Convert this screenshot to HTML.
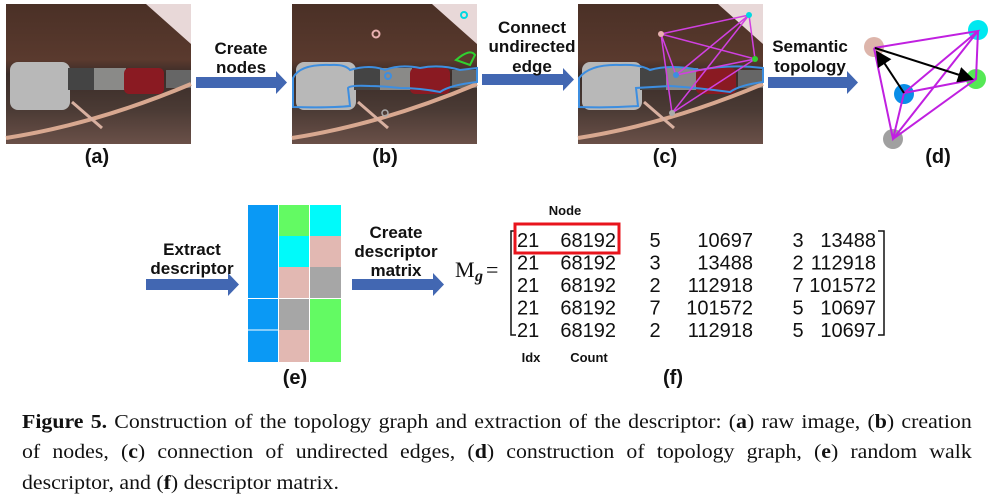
<!DOCTYPE html>
<html><head><meta charset="utf-8">
<style>
body{margin:0;background:#fff;}
#root{position:relative;width:995px;height:500px;overflow:hidden;font-family:"Liberation Sans",sans-serif;}
.cap{position:absolute;left:22px;font-family:"Liberation Serif",serif;font-size:19.5px;color:#111;white-space:nowrap;transform:scaleX(1.12);transform-origin:0 0;}
.j{width:848px;text-align:justify;text-align-last:justify;white-space:normal;}
</style></head>
<body>
<div id="root">
<svg width="995" height="500" style="position:absolute;left:0;top:0">
<defs>
<linearGradient id="ph" x1="0" y1="0" x2="0" y2="1">
<stop offset="0" stop-color="#4a3026"/><stop offset="0.4" stop-color="#5a3a2e"/><stop offset="0.5" stop-color="#3a2c28"/><stop offset="0.75" stop-color="#4a3a34"/><stop offset="1" stop-color="#6a5048"/>
</linearGradient>
<g id="photo">
<rect x="0" y="0" width="185" height="140" fill="url(#ph)"/>
<polygon points="140,0 185,0 185,40" fill="#e8d8d8"/>
<rect x="4" y="58" width="60" height="48" rx="8" fill="#b8b8b8"/>
<rect x="62" y="64" width="30" height="22" fill="#444"/>
<rect x="88" y="64" width="32" height="22" fill="#8a8a88"/>
<rect x="118" y="64" width="40" height="26" rx="5" fill="#8a1a22"/>
<rect x="160" y="66" width="25" height="18" fill="#666"/>
<path d="M0,134 Q90,120 185,80" stroke="#d8a890" stroke-width="4" fill="none"/>
<path d="M66,98 L96,124" stroke="#d8b0a0" stroke-width="3"/>
</g>
<marker id="ah" markerWidth="8" markerHeight="8" refX="7" refY="4" orient="auto"><path d="M0,0 L8,4 L0,8z" fill="#000"/></marker>
</defs>
<use href="#photo" x="6" y="4"/>
<g>
<use href="#photo" x="292" y="4"/>
<path d="M293,78 Q300,64 330,65 Q345,64 350,70 Q370,64 385,70 Q400,64 420,68 Q440,64 460,70 L477,68 L477,82 Q450,85 440,92 Q420,88 400,88 Q380,86 370,86 Q350,85 348,88 L350,106 Q330,108 293,107z" fill="none" stroke="#3d8ee0" stroke-width="2"/>
<circle cx="464" cy="15" r="3" fill="none" stroke="#00d8e0" stroke-width="2"/>
<circle cx="376" cy="34" r="3.5" fill="none" stroke="#e8b0b0" stroke-width="2"/>
<circle cx="388" cy="76" r="3" fill="none" stroke="#3d8ee0" stroke-width="2"/>
<circle cx="385" cy="113" r="3" fill="none" stroke="#aaa" stroke-width="1.5"/>
<path d="M456,60 Q470,48 475,55 L470,65 z" fill="none" stroke="#30d030" stroke-width="2"/>
</g>
<g>
<use href="#photo" x="578" y="4"/>
<path d="M579,78 Q590,64 620,65 Q640,64 650,70 Q670,64 700,70 Q730,64 763,68 L763,82 Q740,85 730,92 Q700,88 670,86 L636,88 L638,106 Q610,108 579,107z" fill="none" stroke="#3d8ee0" stroke-width="2"/>
<g stroke="#d040e0" stroke-width="1.5" fill="none">
<path d="M661,34 L749,15 L755,59 L661,34 L672,113 L749,15 L676,75 L755,59 L672,113 M676,75 L661,34"/>
</g>
<circle cx="749" cy="15" r="3" fill="#00d8e0"/><circle cx="661" cy="34" r="3" fill="#e8b0b0"/><circle cx="755" cy="59" r="3" fill="#30d030"/><circle cx="676" cy="75" r="3" fill="#3d8ee0"/><circle cx="672" cy="113" r="3" fill="#aaa"/>
</g>
<g fill="#4267b2">
<path d="M196,77 H276 V71 L287,82.5 L276,94 V88 H196z"/>
<path d="M482,74 H563 V68 L574,79.5 L563,91 V85 H482z"/>
<path d="M768,77 H847 V71 L858,82.5 L847,94 V88 H768z"/>
<path d="M146,279 H228 V273 L239,284.5 L228,296 V290 H146z"/>
<path d="M352,279 H433 V273 L444,284.5 L433,296 V290 H352z"/>
</g>
<g>
<circle cx="874" cy="47" r="10" fill="#ddb5ab"/>
<circle cx="978" cy="30" r="10" fill="#00e8f0"/>
<circle cx="976" cy="79" r="10" fill="#55e855"/>
<circle cx="904" cy="94" r="10" fill="#0a8ee8"/>
<circle cx="893" cy="139" r="10" fill="#a0a0a0"/>
<g stroke="#c020e0" stroke-width="2" fill="none">
<path d="M874,48 L978,31 L893,139 L874,48 M978,31 L976,79 L893,139 M904,93 L978,31 M904,93 L976,79 M904,93 L893,139"/>
</g>
<line x1="904" y1="93" x2="877" y2="52" stroke="#000" stroke-width="2" marker-end="url(#ah)"/>
<line x1="875" y1="48" x2="972" y2="79" stroke="#000" stroke-width="2" marker-end="url(#ah)"/>
</g>
<g>
<rect x="248" y="205" width="30" height="157" fill="#0a99f5"/>
<rect x="279" y="205" width="30" height="31" fill="#63fa63"/>
<rect x="310" y="205" width="31" height="31" fill="#00fafa"/>
<rect x="279" y="236" width="30" height="31" fill="#00fafa"/>
<rect x="310" y="236" width="31" height="31" fill="#e2b8b2"/>
<rect x="279" y="267" width="30" height="31" fill="#e2b8b2"/>
<rect x="310" y="267" width="31" height="31" fill="#a6a6a6"/>
<rect x="279" y="299" width="30" height="31" fill="#a6a6a6"/>
<rect x="310" y="299" width="31" height="31" fill="#63fa63"/>
<rect x="279" y="330" width="30" height="32" fill="#e2b8b2"/>
<rect x="310" y="330" width="31" height="32" fill="#63fa63"/>
<path d="M248,298.5 H278 M248,330 H278" stroke="#fff" stroke-width="1"/>
</g>
<g font-family="Liberation Sans, sans-serif" font-size="20" fill="#111">
<path d="M516,231 H511 V335 H516" stroke="#111" stroke-width="1.5" fill="none"/>
<path d="M878,231 H884 V335 H878" stroke="#111" stroke-width="1.5" fill="none"/>
<rect x="515" y="224" width="104" height="29" fill="none" stroke="#e8141c" stroke-width="3"/>
<g id="rows"></g>
<text x="455" y="277" font-family="Liberation Serif, serif" font-size="22">M</text>
<text x="475" y="281" font-family="Liberation Serif, serif" font-size="16" font-weight="bold" font-style="italic">g</text>
<text x="486" y="277" font-family="Liberation Serif, serif" font-size="22">=</text>
<text x="565" y="215" font-size="13" font-weight="bold" text-anchor="middle">Node</text>
<text x="531" y="362" font-size="13" font-weight="bold" text-anchor="middle">Idx</text>
<text x="589" y="362" font-size="13" font-weight="bold" text-anchor="middle">Count</text>
</g>
<g font-size="17" font-weight="bold" fill="#111" text-anchor="middle">
<text x="241" y="54">Create</text><text x="241" y="73">nodes</text>
<text x="532" y="33">Connect</text><text x="532" y="52">undirected</text><text x="532" y="72">edge</text>
<text x="810" y="52">Semantic</text><text x="810" y="72">topology</text>
<text x="192" y="255">Extract</text><text x="192" y="274">descriptor</text>
<text x="396" y="238">Create</text><text x="396" y="257">descriptor</text><text x="396" y="276">matrix</text>
</g>
<g font-size="20" font-weight="bold" fill="#111" text-anchor="middle">
<text x="97" y="163">(a)</text><text x="385" y="163">(b)</text><text x="665" y="163">(c)</text><text x="938" y="163">(d)</text>
<text x="295" y="384">(e)</text><text x="673" y="384">(f)</text>
</g>
</svg>
<div class="cap j" style="top:412px"><b>Figure 5.</b> Construction of the topology graph and extraction of the descriptor: (<b>a</b>) raw image, (<b>b</b>) creation</div>
<div class="cap j" style="top:442px">of nodes, (<b>c</b>) connection of undirected edges, (<b>d</b>) construction of topology graph, (<b>e</b>) random walk</div>
<div class="cap" style="top:473px">descriptor, and (<b>f</b>) descriptor matrix.</div>
</div>
<script>
const idxCol=["21","21","21","21","21"];
const countCol=["68192","68192","68192","68192","68192"];
const c3=["5","3","2","7","2"];
const c4=["10697","13488","112918","101572","112918"];
const c5=["3","2","7","5","5"];
const c6=["13488","112918","101572","10697","10697"];
const g=document.getElementById('rows');
function t(x,y,s,anchor){const e=document.createElementNS('http://www.w3.org/2000/svg','text');
e.setAttribute('x',x);e.setAttribute('y',y);e.setAttribute('text-anchor',anchor);e.textContent=s;


g.appendChild(e);}
for(let i=0;i<5;i++){const y=247+i*22.5;
t(517,y,idxCol[i],'start');t(616,y,countCol[i],'end');t(655,y,c3[i],'middle');
t(753,y,c4[i],'end');t(798,y,c5[i],'middle');t(876,y,c6[i],'end');}
</script>
</body></html>
